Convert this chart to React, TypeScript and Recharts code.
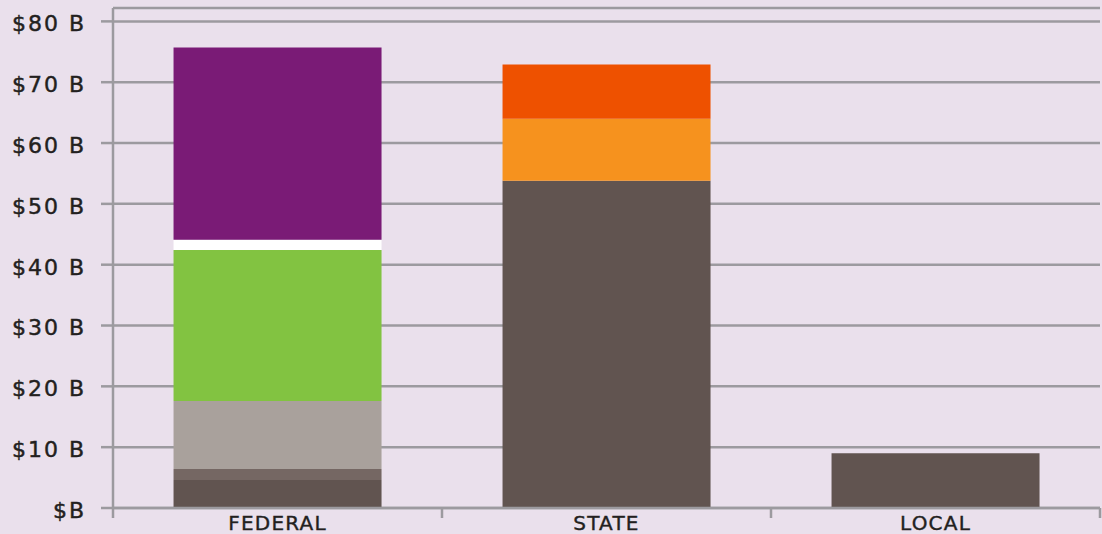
import { Bar, BarChart, CartesianGrid, XAxis, YAxis } from "recharts";

const categories = ["FEDERAL", "STATE", "LOCAL"];

// stacked segments, bottom to top ($ billions)
const base = [4.6, 53.8, 9.0];
const fedMid = [1.8, 0, 0];
const fedGray = [11.2, 0, 0];
const fedGreen = [24.8, 0, 0];
const fedWhite = [1.7, 0, 0];
const fedPurple = [31.6, 0, 0];
const stateOrange = [0, 10.2, 0];
const stateRed = [0, 8.9, 0];

const yTicks = [0, 10, 20, 30, 40, 50, 60, 70, 80];

const data = categories.map((name, i) => ({
  name,
  base: base[i],
  fedMid: fedMid[i],
  fedGray: fedGray[i],
  fedGreen: fedGreen[i],
  fedWhite: fedWhite[i],
  fedPurple: fedPurple[i],
  stateOrange: stateOrange[i],
  stateRed: stateRed[i],
}));

const series = [
  { key: "base", color: "#615450" },
  { key: "fedMid", color: "#756763" },
  { key: "fedGray", color: "#a9a19c" },
  { key: "fedGreen", color: "#82c341" },
  { key: "fedWhite", color: "#ffffff" },
  { key: "fedPurple", color: "#7a1b76" },
  { key: "stateOrange", color: "#f6921e" },
  { key: "stateRed", color: "#ee5100" },
];

const GRID = "#9c9a9f";
const TEXT = "#231f20";
const FONT = "'DejaVu Sans', sans-serif";

// label centred in the band, with tick marks on the band edges
function CategoryTick(props: any) {
  const { x, y, payload, index, visibleTicksCount } = props;
  const half = payload?.offset ?? 0;
  return (
    <g>
      <line x1={x - half} x2={x - half} y1={y} y2={y + 10} stroke={GRID} strokeWidth={2.5} />
      {index === visibleTicksCount - 1 && (
        <line x1={x + half} x2={x + half} y1={y} y2={y + 10} stroke={GRID} strokeWidth={2.5} />
      )}
      <text
        x={x}
        y={y + 22}
        textAnchor="middle"
        fill={TEXT}
        stroke={TEXT}
        strokeWidth={0.4}
        fontSize={20}
        fontFamily={FONT}
        letterSpacing={1.2}
      >
        {payload.value}
      </text>
    </g>
  );
}

export default function App() {
  return (
    <div
      style={{
        position: "absolute",
        left: 0,
        top: 0,
        width: 1102,
        height: 534,
        background: "#eae0ec",
      }}
    >
      <BarChart
        width={1102}
        height={534}
        data={data}
        margin={{ top: 8, right: 2, left: 0, bottom: 25 }}
        barCategoryGap="18.4%"
      >
        <CartesianGrid vertical={false} stroke={GRID} strokeWidth={2.5} />
        <XAxis
          dataKey="name"
          height={1}
          interval={0}
          axisLine={{ stroke: GRID, strokeWidth: 2.5 }}
          tickLine={false}
          tickSize={0}
          tickMargin={0}
          tick={<CategoryTick />}
        />
        <YAxis
          width={113}
          domain={[0, 82.2]}
          ticks={yTicks}
          interval={0}
          tickSize={12}
          tickMargin={15}
          tickFormatter={(v: number) => (v === 0 ? "$B" : `$${v} B`)}
          axisLine={{ stroke: GRID, strokeWidth: 2.5 }}
          tickLine={{ stroke: GRID, strokeWidth: 2.5 }}
          tick={{
            fill: TEXT,
            stroke: TEXT,
            strokeWidth: 0.45,
            fontSize: 22,
            fontFamily: FONT,
            letterSpacing: 2,
            dy: 2,
          }}
        />
        {series.map((s) => (
          <Bar
            key={s.key}
            dataKey={s.key}
            stackId="a"
            fill={s.color}
            isAnimationActive={false}
          />
        ))}
      </BarChart>
    </div>
  );
}
